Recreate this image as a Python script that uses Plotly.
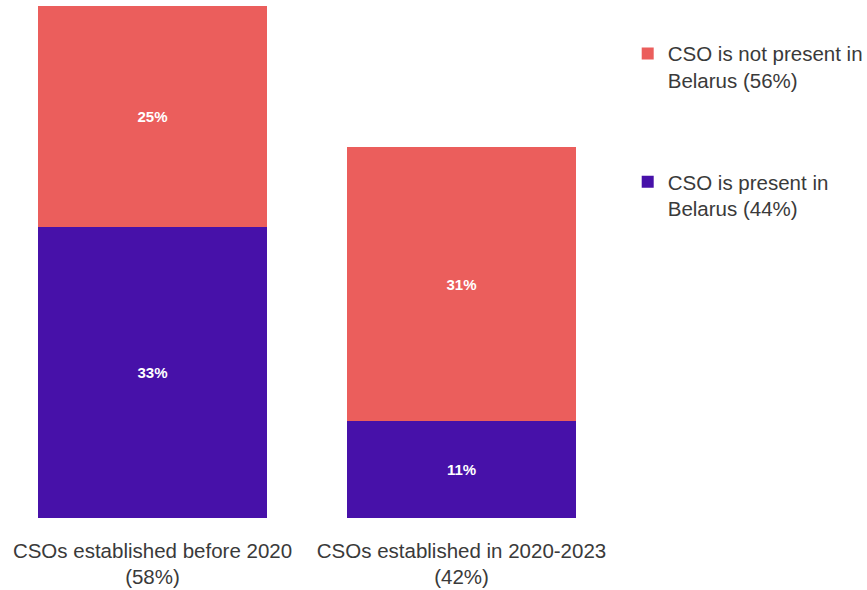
import plotly.graph_objects as go

categories = ["CSOs established before 2020<br>(58%)", "CSOs established in 2020-2023<br>(42%)"]
present = [33, 11]
not_present = [25, 31]
series_names = ["CSO is present in<br>Belarus (44%)", "CSO is not present in<br>Belarus (56%)"]
colors = ["#4711A9", "#EB5E5C"]
legend_ranks = [2, 1]

FONT = "Liberation Sans, Arial, sans-serif"

fig = go.Figure()
for i, (vals, name, col) in enumerate(zip([present, not_present], series_names, colors)):
    fig.add_trace(go.Bar(
        x=[0, 1], y=vals, name=name, marker=dict(color=col, line=dict(width=0)),
        width=0.741, text=vals, texttemplate="<b>%{text}%</b>",
        textposition="inside", insidetextanchor="middle",
        textfont=dict(color="white", size=15, family=FONT),
        legendgroup=f"g{i}", legendrank=legend_ranks[i], hoverinfo="skip",
    ))

fig.update_layout(
    barmode="stack",
    width=867, height=590,
    margin=dict(l=0, r=251, t=6, b=72, autoexpand=False),
    paper_bgcolor="white", plot_bgcolor="white",
    font=dict(family=FONT, color="#3a3a3a", size=20.5),
    xaxis=dict(range=[-0.4935, 1.5], tickvals=[0, 1], ticktext=categories,
               showgrid=False, zeroline=False, showline=False, ticks="",
               ticklabelstandoff=18, tickfont=dict(size=20.5, color="#3a3a3a")),
    yaxis=dict(range=[0, 58], visible=False),
    legend=dict(x=1.019, y=0.946, xanchor="left", yanchor="top",
                traceorder="grouped", tracegroupgap=72, valign="top",
                font=dict(size=20.5, color="#3a3a3a"), itemwidth=30),
    uniformtext=dict(mode="show", minsize=10),
)

fig.write_html("out.html")
